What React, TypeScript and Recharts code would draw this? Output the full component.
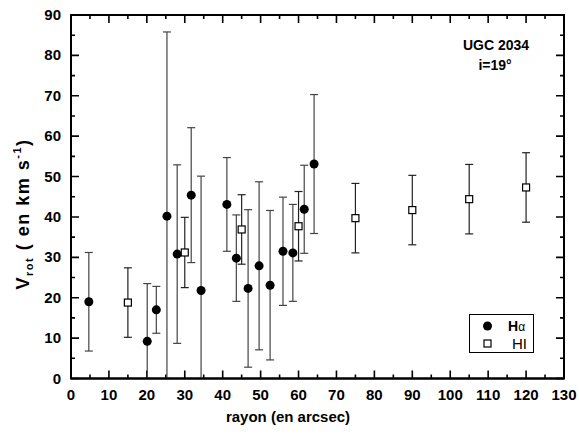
import React from 'react';
import { ScatterChart, Scatter, XAxis, YAxis, ErrorBar } from 'recharts';

// ---- data ----
const haRadius = [4.7, 20.1, 22.5, 25.3, 28.0, 31.7, 34.3, 41.1, 43.6, 46.7, 49.6, 52.5, 55.9, 58.5, 61.5, 64.1];
const haVelocity = [19.0, 9.2, 17.0, 40.2, 30.8, 45.4, 21.8, 43.1, 29.8, 22.3, 27.9, 23.1, 31.5, 31.1, 41.9, 53.1];
const haError = [12.2, 14.3, 5.8, 45.6, 22.1, 16.7, 28.3, 11.6, 10.7, 19.5, 20.8, 18.5, 13.4, 12.0, 10.9, 17.2];

const hiRadius = [15, 30, 45, 60, 75, 90, 105, 120];
const hiVelocity = [18.8, 31.2, 36.9, 37.7, 39.7, 41.7, 44.4, 47.3];
const hiError = [8.6, 8.7, 8.6, 8.6, 8.6, 8.6, 8.6, 8.6];

const xTicks = [0, 5, 10, 15, 20, 25, 30, 35, 40, 45, 50, 55, 60, 65, 70, 75, 80, 85, 90, 95, 100, 105, 110, 115, 120, 125, 130];
const yTicks = [0, 5, 10, 15, 20, 25, 30, 35, 40, 45, 50, 55, 60, 65, 70, 75, 80, 85, 90];
const X_MIN = 0;
const X_MAX = 130;
const Y_MIN = 0;
const Y_MAX = 90;

// the plot clips error bars at the bottom of the axis (V = 0)
const haData = haRadius.map((r, i) => ({ r, v: haVelocity[i], err: [Math.min(haError[i], haVelocity[i]), haError[i]] }));
const hiData = hiRadius.map((r, i) => ({ r, v: hiVelocity[i], err: [Math.min(hiError[i], hiVelocity[i]), hiError[i]] }));

// ---- layout ----
const W = 579;
const H = 440;
const MARGIN = { top: 15, right: 15, left: 0, bottom: 0 };
const Y_AXIS_W = 71;
const X_AXIS_H = 61.5;
const PLOT_LEFT = MARGIN.left + Y_AXIS_W;
const PLOT_TOP = MARGIN.top;
const PLOT_RIGHT = W - MARGIN.right;
const PLOT_BOTTOM = H - MARGIN.bottom - X_AXIS_H;
const FONT = '"Liberation Sans", Arial, sans-serif';
const MAJOR = 8;
const MINOR = 4;
const tickLen = (t: number) => (t % 10 === 0 ? MAJOR : MINOR);
// same linear mapping as the axes (frame decoration only)
const px = (t: number) => PLOT_LEFT + ((t - X_MIN) / (X_MAX - X_MIN)) * (PLOT_RIGHT - PLOT_LEFT);
const py = (t: number) => PLOT_BOTTOM - ((t - Y_MIN) / (Y_MAX - Y_MIN)) * (PLOT_BOTTOM - PLOT_TOP);

const tickPath =
  xTicks
    .map((t) => `M${px(t)},${PLOT_BOTTOM}v${-tickLen(t)}M${px(t)},${PLOT_TOP}v${tickLen(t)}`)
    .join('') +
  yTicks
    .map((t) => `M${PLOT_LEFT},${py(t)}h${tickLen(t)}M${PLOT_RIGHT},${py(t)}h${-tickLen(t)}`)
    .join('');

const BottomTick = (props: any) => {
  const { x, y, payload } = props;
  const v = payload.value;
  if (v % 10 !== 0) return <g />;
  return (
    <text x={x} y={Number(y) + 21} textAnchor="middle" fontFamily={FONT} fontWeight="bold" fontSize={15} fill="#000">
      {v}
    </text>
  );
};

const LeftTick = (props: any) => {
  const { x, y, payload } = props;
  const v = payload.value;
  if (v % 10 !== 0) return <g />;
  return (
    <text x={Number(x) - 10} y={Number(y) + 5} textAnchor="end" fontFamily={FONT} fontWeight="bold" fontSize={15} fill="#000">
      {v}
    </text>
  );
};

const Dot = (p: any) => <circle cx={p.cx} cy={p.cy} r={4.5} fill="#000" />;
const Sq = (p: any) => (
  <rect x={p.cx - 3.5} y={p.cy - 3.5} width={7} height={7} fill="#fff" stroke="#000" strokeWidth={1.2} />
);

export default function App() {
  return (
    <div style={{ position: 'absolute', left: 0, top: 0, background: '#fff' }}>
      <ScatterChart width={W} height={H} margin={MARGIN}>
        <XAxis
          type="number"
          dataKey="r"
          domain={[X_MIN, X_MAX]}
          ticks={xTicks}
          interval={0}
          height={X_AXIS_H}
          tickLine={false}
          tickSize={0}
          tickMargin={0}
          axisLine={{ stroke: '#000', strokeWidth: 2 }}
          tick={<BottomTick />}
        />
        <YAxis
          type="number"
          dataKey="v"
          domain={[Y_MIN, Y_MAX]}
          ticks={yTicks}
          interval={0}
          width={Y_AXIS_W}
          tickLine={false}
          tickSize={0}
          tickMargin={0}
          axisLine={{ stroke: '#000', strokeWidth: 2 }}
          tick={<LeftTick />}
        />
        <Scatter name="Hα" data={haData} shape={Dot} isAnimationActive={false}>
          <ErrorBar dataKey="err" direction="y" width={4} stroke="#444" strokeWidth={1.2} />
        </Scatter>
        <Scatter name="HI" data={hiData} shape={Sq} isAnimationActive={false}>
          <ErrorBar dataKey="err" direction="y" width={4} stroke="#222" strokeWidth={1.2} />
        </Scatter>
        <rect
          x={PLOT_LEFT}
          y={PLOT_TOP}
          width={PLOT_RIGHT - PLOT_LEFT}
          height={PLOT_BOTTOM - PLOT_TOP}
          fill="none"
          stroke="#000"
          strokeWidth={2}
        />
        <path d={tickPath} fill="none" stroke="#000" strokeWidth={1.6} />
        <text x={496} y={50} textAnchor="middle" fontFamily={FONT} fontWeight="bold" fontSize={14} fill="#000">
          UGC 2034
        </text>
        <text x={495} y={70} textAnchor="middle" fontFamily={FONT} fontWeight="bold" fontSize={14} fill="#000">
          i=19°
        </text>
        <text x={288} y={422} textAnchor="middle" fontFamily={FONT} fontWeight="bold" fontSize={15} fill="#000">
          rayon (en arcsec)
        </text>
        <text
          x={29}
          y={214}
          transform="rotate(-90, 29, 214)"
          textAnchor="middle"
          fontFamily={FONT}
          fontWeight="bold"
          fontSize={18}
          letterSpacing={1.5}
          fill="#000"
        >
          V<tspan fontSize={11} dy={4}>rot</tspan>
          <tspan dy={-4}> ( en km s</tspan>
          <tspan fontSize={11} dy={-8}>-1</tspan>
          <tspan dy={8}>)</tspan>
        </text>
        <g>
          <rect x={469.5} y={314.5} width={64} height={38} fill="#fff" stroke="#000" strokeWidth={1} />
          <circle cx={487.5} cy={326} r={4.5} fill="#000" />
          <text x={508} y={331} fontFamily={FONT} fontSize={14} fill="#000">
            <tspan fontWeight="bold">H</tspan>
            <tspan fontSize={12}>α</tspan>
          </text>
          <rect x={484} y={340} width={7} height={7} fill="#fff" stroke="#000" strokeWidth={1.2} />
          <text x={512} y={349} fontFamily={FONT} fontSize={15} fill="#000">
            HI
          </text>
        </g>
      </ScatterChart>
    </div>
  );
}
